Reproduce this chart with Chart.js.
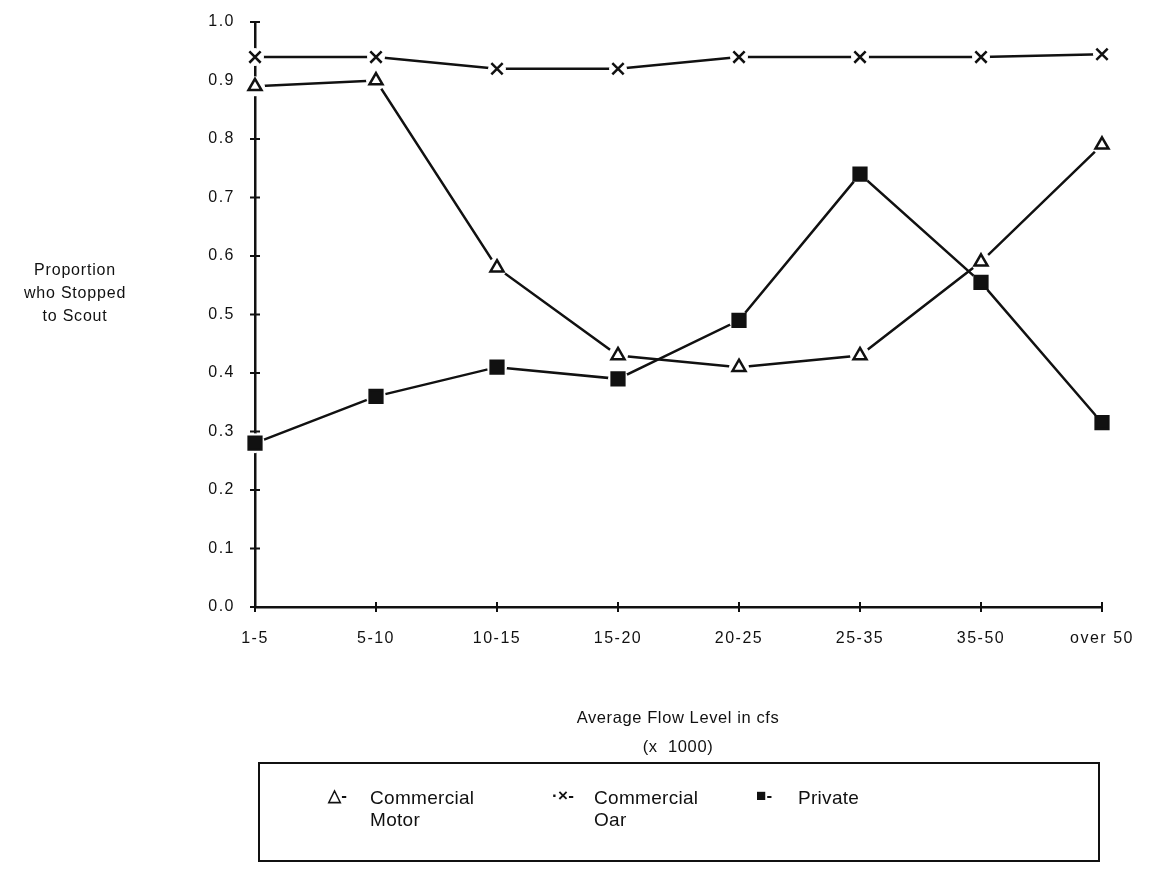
<!DOCTYPE html>
<html>
<head>
<meta charset="utf-8">
<script src="https://cdn.jsdelivr.net/npm/chart.js@4.4.0/dist/chart.umd.min.js"></script>
<style>
    html, body { margin: 0; padding: 0; background: #fff; }
    body { width: 1152px; height: 894px; position: relative; overflow: hidden;
           font-family: 'Liberation Sans', Arial, sans-serif; color: #111; }
    #wrap { position: absolute; left: 0; top: 0; width: 1152px; height: 894px; }
    .ytitle { position: absolute; left: 0; width: 150px; top: 258px; text-align: center;
              font-size: 16px; line-height: 23px; letter-spacing: 0.8px; }
    .xtitle { position: absolute; left: 478px; width: 400px; top: 703px; text-align: center;
              font-size: 16.5px; line-height: 29px; letter-spacing: 0.6px; }
    .legend { position: absolute; left: 258px; top: 762px; width: 838px; height: 96px;
              border: 2px solid #111; box-sizing: content-box; }
    .item { position: absolute; top: 23px; font-size: 19px; line-height: 22px; letter-spacing: 0.3px; }
    .item .sym { position: absolute; left: -4px; top: -2px; font-size: 17px; font-weight: bold; }
    .item .lbl { position: absolute; left: 38px; top: 0; white-space: nowrap; }
</style>
</head>
<body>
<div id="wrap"><canvas id="chart" width="1152" height="894"></canvas></div>

<div class="ytitle">Proportion<br>who Stopped<br>to Scout</div>
<div class="xtitle">Average Flow Level in cfs<br>(x&nbsp;&nbsp;1000)</div>

<div class="legend">
    <div class="item" style="left:72px"><span class="sym">△-</span><span class="lbl">Commercial<br>Motor</span></div>
    <div class="item" style="left:296px"><span class="sym">·×-</span><span class="lbl">Commercial<br>Oar</span></div>
    <div class="item" style="left:500px"><span class="sym">■-</span><span class="lbl">Private</span></div>
</div>

<script>
// Categorias (vazão média, x 1000 cfs)
const categorias = ['1-5', '5-10', '10-15', '15-20', '20-25', '25-35', '35-50', 'over 50'];

// Séries
const comercialMotor = [0.89, 0.90, 0.58, 0.43, 0.41, 0.43, 0.59, 0.79];
const comercialRemo = [0.94, 0.94, 0.92, 0.92, 0.94, 0.94, 0.94, 0.945];
const privado = [0.28, 0.36, 0.41, 0.39, 0.49, 0.74, 0.555, 0.315];

// Ticks do eixo Y
const ticksY = [0.0, 0.1, 0.2, 0.3, 0.4, 0.5, 0.6, 0.7, 0.8, 0.9, 1.0];

const tinta = '#111';
const fonteTicks = { family: "'Liberation Sans', Arial, sans-serif", size: 16 };

// Espaçamento de letras dos rótulos (como no original)
const espacamento = {
    id: 'espacamento',
    beforeDraw(chart) { chart.ctx.letterSpacing = '1.5px'; },
    afterDraw(chart) { chart.ctx.letterSpacing = '0px'; }
};

// Marcas de escala cruzando os eixos
const marcasEixos = {
    id: 'marcasEixos',
    beforeDatasetsDraw(chart) {
        const { ctx, scales: { x, y } } = chart;
        ctx.save();
        ctx.strokeStyle = tinta;
        ctx.lineWidth = 2;
        ticksY.forEach(v => {
            const py = y.getPixelForValue(v);
            ctx.beginPath();
            ctx.moveTo(x.left - 5, py);
            ctx.lineTo(x.left + 5, py);
            ctx.stroke();
        });
        categorias.forEach((c, i) => {
            const px = x.getPixelForValue(i);
            ctx.beginPath();
            ctx.moveTo(px, y.bottom - 5);
            ctx.lineTo(px, y.bottom + 5);
            ctx.stroke();
        });
        ctx.restore();
    }
};

// Cada série: linha, halo branco (abre a linha perto do marcador) e marcador
function serie(label, data, estilo, raio, fundo, halo) {
    return [
        {
            label: label,
            data: data,
            borderColor: tinta,
            borderWidth: 2.5,
            pointRadius: 0,
            tension: 0,
            order: 3
        },
        {
            label: label + ' halo',
            data: data,
            showLine: false,
            pointStyle: 'circle',
            pointRadius: halo,
            pointBorderWidth: 0,
            pointBackgroundColor: '#fff',
            order: 2
        },
        {
            label: label + ' marcador',
            data: data,
            showLine: false,
            pointStyle: estilo,
            pointRadius: raio,
            pointBorderWidth: 2.5,
            pointBackgroundColor: fundo,
            pointBorderColor: tinta,
            order: 1
        }
    ];
}

new Chart(document.getElementById('chart'), {
    type: 'line',
    data: {
        labels: categorias,
        datasets: [
            ...serie('Commercial Motor', comercialMotor, 'triangle', 7.5, '#fff', 10),
            ...serie('Commercial Oar', comercialRemo, 'crossRot', 8, tinta, 9),
            ...serie('Private', privado, 'rect', 9, tinta, 10)
        ]
    },
    options: {
        responsive: false,
        animation: false,
        layout: { padding: { left: 0, right: 50, top: 22, bottom: 0 } },
        plugins: {
            legend: { display: false },
            tooltip: { enabled: false }
        },
        scales: {
            x: {
                offset: false,
                grid: { display: false, drawTicks: false },
                border: { display: true, color: tinta, width: 2.5 },
                ticks: { color: tinta, font: fonteTicks, padding: 22, maxRotation: 0, autoSkip: false },
                afterFit(scale) {
                    scale.height = 894 - 607;
                    scale.paddingLeft = 0;
                    scale.paddingRight = 0;
                }
            },
            y: {
                min: 0,
                max: 1,
                grid: { display: false, drawTicks: false },
                border: { display: true, color: tinta, width: 2.5 },
                afterBuildTicks(scale) { scale.ticks = ticksY.map(v => ({ value: v })); },
                ticks: {
                    color: tinta,
                    font: fonteTicks,
                    padding: 20,
                    callback: v => v.toFixed(1)
                },
                afterFit(scale) {
                    scale.width = 255;
                    scale.paddingTop = 0;
                    scale.paddingBottom = 0;
                }
            }
        }
    },
    plugins: [espacamento, marcasEixos]
});
</script>
</body>
</html>
